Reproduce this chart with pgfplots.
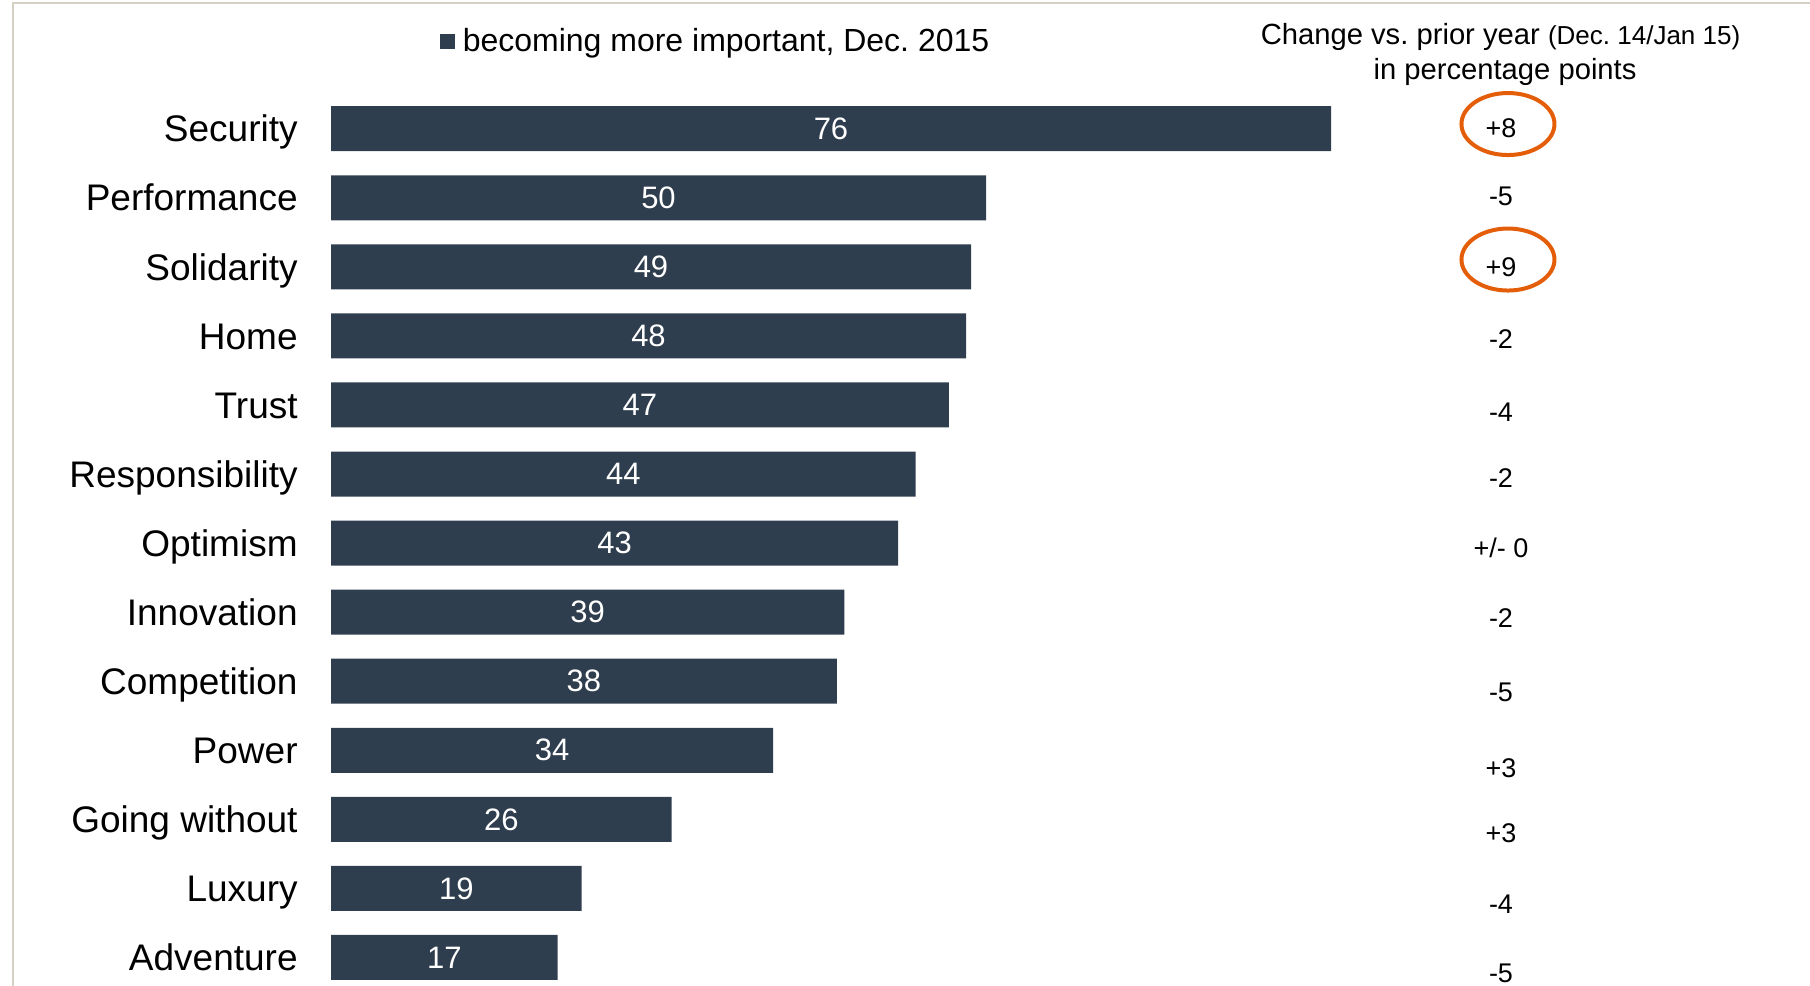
\documentclass[border=0pt]{standalone}
\usepackage{pgfplots}
\usepackage{pgfplotstable}
\pgfplotsset{compat=1.18}
\usepackage{fontspec}
\setmainfont{Liberation Sans}
\frenchspacing
\definecolor{barcol}{RGB}{47,62,78}
\definecolor{ringcol}{RGB}{228,94,10}
\definecolor{bordercol}{RGB}{214,207,196}

% bv = bar length as drawn, v = printed (rounded) value
\pgfplotstableread[col sep=comma]{
idx,label,bv,v,chg,cy
0,Security,76.0,76,+8,0.12
1,Performance,49.78,50,-5,1.11
2,Solidarity,48.64,49,+9,2.14
3,Home,48.26,48,-2,3.18
4,Trust,46.95,47,-4,4.24
5,Responsibility,44.44,44,-2,5.20
6,Optimism,43.11,43,+/- 0,6.21
7,Innovation,39.01,39,-2,7.22
8,Competition,38.45,38,-5,8.30
9,Power,33.61,34,+3,9.39
10,Going without,25.89,26,+3,10.34
11,Luxury,19.05,19,-4,11.36
12,Adventure,17.23,17,-5,12.36
}\data

\begin{document}
\begin{tikzpicture}
\begin{axis}[
  at={(165.5bp,-3.0bp)}, anchor=south west,
  scale only axis, width=500bp, height=448.9bp,
  xmin=0, xmax=76, ymin=-0.5, ymax=12.5, y dir=reverse,
  clip=false,
  /pgf/number format/assume math mode=true,
  axis line style={draw=none},
  major tick length=0pt,
  xtick=\empty,
  ytick={0,...,12},
  yticklabels from table={\data}{label},
  yticklabel style={font=\fontsize{18.5bp}{22bp}\selectfont, anchor=base east, inner sep=0pt, xshift=-16.5bp, yshift=-6.6bp},
  legend style={at={(axis description cs:0.109,1.0587)}, anchor=west, draw=none, fill=none, inner sep=0pt,
    font=\fontsize{16bp}{19bp}\selectfont, nodes={inner xsep=3.7bp, inner ysep=0pt}},
  legend cell align=left,
]
\addplot[xbar, bar width=22.5bp, fill=barcol, draw=none,
  legend image code/.code={\fill[barcol] (0bp,-3.75bp) rectangle (7.5bp,3.75bp);}]
  table[x=bv, y=idx] {\data};
\addlegendentry{becoming more important, Dec. 2015}

\addplot[forget plot, draw=none, mark=none, nodes near coords, point meta=explicit,
  nodes near coords style={white, font=\fontsize{15.5bp}{18bp}\selectfont, anchor=center}]
  table[x expr=\thisrow{bv}/2, y=idx, meta=v] {\data};

\addplot[forget plot, draw=none, mark=none, nodes near coords, point meta=explicit symbolic,
  nodes near coords style={black, font=\fontsize{13.5bp}{16bp}\selectfont, anchor=base}]
  table[x expr=88.92, y=cy, meta=chg] {\data};

\draw[ringcol, line width=2bp] (axis cs:89.45,-0.068) ellipse [x radius=23.25bp, y radius=15.5bp];
\draw[ringcol, line width=2bp] (axis cs:89.45,1.894) ellipse [x radius=23.25bp, y radius=15.5bp];
\end{axis}
\node[anchor=base, inner sep=0pt] at (750.25bp,470.6bp) {\fontsize{14.6bp}{17bp}\selectfont Change vs. prior year {\fontsize{13bp}{16bp}\selectfont (Dec. 14/Jan 15)}};
\node[anchor=base, inner sep=0pt] at (752.5bp,453.1bp) {\fontsize{14.6bp}{17bp}\selectfont in percentage points};
\draw[bordercol, line width=1bp] (6.25bp,0bp) -- (6.25bp,491.6bp) -- (905bp,491.6bp);
\pgfresetboundingbox
\path[use as bounding box] (0bp,0bp) rectangle (905bp,493bp);
\end{tikzpicture}
\end{document}
